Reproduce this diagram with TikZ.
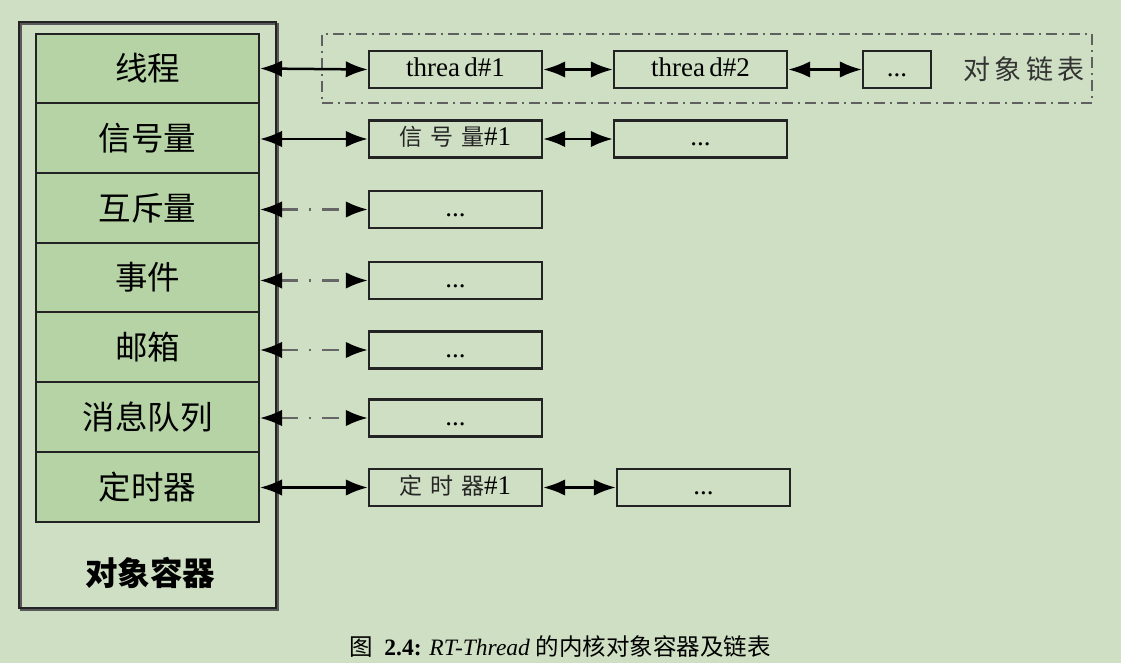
\documentclass[tikz,border=0pt]{standalone}
\usepackage{fontspec}
\setmainfont{Liberation Serif}
\newfontfamily\cjk{Noto Sans CJK SC}
\usetikzlibrary{arrows.meta}
\definecolor{bg}{RGB}{207,223,196}
\definecolor{cellg}{RGB}{182,211,166}
\definecolor{edge}{RGB}{35,35,35}
\tikzset{
 cell/.style={draw=edge, line width=2pt, fill=cellg, minimum width=223pt, minimum height=69.7pt, inner sep=0pt, font=\cjk\fontsize{32.5}{32.5}\selectfont},
 objbox/.style={draw=edge, line width=2.4pt, minimum width=173pt, minimum height=37pt, inner sep=0pt, text height=20pt, text depth=6pt, font=\fontsize{27}{27}\selectfont},
 smallbox/.style={objbox, minimum width=68pt},
 link/.style={line width=2.5pt, {Latex[length=22pt,width=16.5pt,color=black]}-{Latex[length=22pt,width=16.5pt,color=black]}},
 weaklink/.style={link, draw=gray!80!black, dash pattern=on 17pt off 11pt on 2.5pt off 11pt},
 grp/.style={draw=gray!75!black, line width=1.8pt, dash pattern=on 11pt off 5pt on 2pt off 5pt},
 lbl/.style={font=\cjk\fontsize{27}{27}\selectfont, text=black!80},
}
\newcommand{\bxcjk}[1]{{\cjk\fontsize{23}{23}\selectfont\color{black!85}#1}}
\begin{document}
\begin{tikzpicture}[x=1pt,y=-1pt]
\fill[bg] (0,0) rectangle (1121,663);
\useasboundingbox (0,0) rectangle (1121,663);
% container
\draw[gray!70!black, line width=2.4pt] (21,24) rectangle (278,610);
\node[draw=edge, line width=2pt, minimum width=257pt, minimum height=586pt, inner sep=0pt] (cont) at (147.5,315) {};
\node[font=\cjk\bfseries\fontsize{32.5}{32.5}\selectfont] (contlbl) at (150,573) {对象容器};
% cells
\node[cell] (c1) at (147.5,68.5) {线程};
\node[cell] (c2) at (147.5,138.2) {信号量};
\node[cell] (c3) at (147.5,207.9) {互斥量};
\node[cell] (c4) at (147.5,277.6) {事件};
\node[cell] (c5) at (147.5,347.3) {邮箱};
\node[cell] (c6) at (147.5,417.0) {消息队列};
\node[cell] (c7) at (147.5,486.7) {定时器};
% group box
\node[grp, minimum width=770pt, minimum height=69pt, inner sep=0pt] (grp) at (707,68.5) {};
\node[lbl] (grplbl) at (1024,69) {对\,象\,链\,表};
% boxes
\node[objbox] (t1) at (455.5,69.5) {threa\,d\#1};
\node[objbox] (t2) at (700.5,69.5) {threa\,d\#2};
\node[smallbox] (t3) at (897,69.5) {...};
\node[objbox] (s1) at (455.5,139) {\bxcjk{信\,\,号\,\,量}\#1};
\node[objbox] (s2) at (700.5,139) {...};
\node[objbox] (m1) at (455.5,209.5) {...};
\node[objbox] (e1) at (455.5,280.5) {...};
\node[objbox] (b1) at (455.5,350) {...};
\node[objbox] (q1) at (455.5,418) {...};
\node[objbox] (d1) at (455.5,487.5) {\bxcjk{定\,\,时\,\,器}\#1};
\node[objbox] (d2) at (703.5,487.5) {...};
% connectors
\draw[link] (c1.east) -- (t1.west);
\draw[link] (t1.east) -- (t2.west);
\draw[link] (t2.east) -- (t3.west);
\draw[link] (c2.east |- s1.west) -- (s1.west);
\draw[link] (s1.east) -- (s2.west);
\draw[weaklink] (c3.east |- m1.west) -- (m1.west);
\draw[weaklink] (c4.east |- e1.west) -- (e1.west);
\draw[weaklink] (c5.east |- b1.west) -- (b1.west);
\draw[weaklink] (c6.east |- q1.west) -- (q1.west);
\draw[link] (c7.east |- d1.west) -- (d1.west);
\draw[link] (d1.east) -- (d2.west);
% caption
\node[font=\fontsize{23.5}{23.5}\selectfont] (cap) at (560,647) {{\cjk 图}\enspace\textbf{2.4:} \textit{RT-Thread} {\cjk 的内核对象容器及链表}};
\end{tikzpicture}
\end{document}
